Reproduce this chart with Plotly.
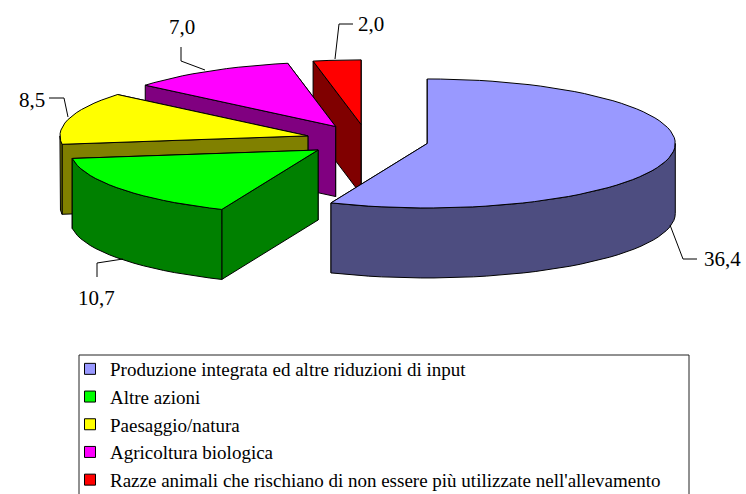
import math
import plotly.graph_objects as go

# ---- data ----
categories = [
    "Produzione integrata ed altre riduzioni di input",
    "Altre azioni",
    "Paesaggio/natura",
    "Agricoltura biologica",
    "Razze animali che rischiano di non essere più utilizzate nell'allevamento",
]
values = [36.4, 10.7, 8.5, 7.0, 2.0]

# ---- style ----
top_colors = ["#9999FF", "#00FF00", "#FFFF00", "#FF00FF", "#FF0000"]
side_colors = ["#4D4D80", "#008000", "#808000", "#800080", "#800000"]
FONT = "Liberation Serif"
CX, CY, RX, RY, DEPTH, EXPLODE = 367.0, 140.3, 248.0, 64.5, 70.0, 0.248
label_pos = [(722, 259), (96, 298), (32, 100), (182, 27), (371, 24)]
leaders = [
    [(670, 225), (683, 259), (697, 259)],
    [(123, 259), (97, 263), (97, 277)],
    [(68, 117), (64, 98), (49, 98)],
    [(205, 70), (181, 61), (181, 47)],
    [(335, 59), (339, 24), (353, 24)],
]

total = sum(values)
fig = go.Figure()


def pt(cx, cy, deg, dz=0.0):
    a = math.radians(deg)
    return cx + RX * math.sin(a), cy - RY * math.cos(a) + dz


def poly(points, fill):
    xs = [p[0] for p in points] + [points[0][0]]
    ys = [p[1] for p in points] + [points[0][1]]
    fig.add_trace(go.Scatter(
        x=xs, y=ys, mode="lines", fill="toself", fillcolor=fill,
        line=dict(color="black", width=1), showlegend=False, hoverinfo="skip"))


def arc(a0, a1):
    n = max(2, int(abs(a1 - a0) / 3) + 1)
    return [a0 + (a1 - a0) * i / (n - 1) for i in range(n)]


# slice geometry from the values
slices = []
start = 0.0
for i, v in enumerate(values):
    sweep = v / total * 360
    mid = start + sweep / 2
    m = math.radians(mid)
    cx = CX + EXPLODE * RX * math.sin(m)
    cy = CY - EXPLODE * RY * math.cos(m)
    slices.append((i, start, start + sweep, cx, cy))
    start += sweep

# back to front
for i, a0, a1, cx, cy in reversed(slices):
    apex = (cx, cy)
    apex_low = (cx, cy + DEPTH)
    # hidden end face, then visible start face
    for ang in (a1, a0):
        poly([apex, pt(cx, cy, ang), pt(cx, cy, ang, DEPTH), apex_low], side_colors[i])
    # outer wall, front half of the rim only
    w0, w1 = max(a0, 90.0), min(a1, 270.0)
    if w1 > w0:
        angs = arc(w0, w1)
        poly([pt(cx, cy, t) for t in angs] + [pt(cx, cy, t, DEPTH) for t in reversed(angs)],
             side_colors[i])
    # top face
    poly([apex] + [pt(cx, cy, t) for t in arc(a0, a1)], top_colors[i])

# leader lines and value labels
for leader, pos, v in zip(leaders, label_pos, values):
    fig.add_trace(go.Scatter(
        x=[p[0] for p in leader], y=[p[1] for p in leader], mode="lines",
        line=dict(color="black", width=1), showlegend=False, hoverinfo="skip"))
    fig.add_annotation(x=pos[0], y=pos[1], text=f"{v:.1f}".replace(".", ","),
                       showarrow=False, font=dict(family=FONT, size=21, color="black"))

# legend entries
for i, name in enumerate(categories):
    fig.add_trace(go.Scatter(
        x=[None], y=[None], mode="markers", name=name, legendgroup=f"g{i}",
        marker=dict(symbol="square", size=11, color=top_colors[i],
                    line=dict(color="black", width=1))))

fig.add_shape(type="rect", x0=79, y0=355, x1=689, y1=510, xref="x", yref="y",
              line=dict(color="#222222", width=1), fillcolor="white", layer="below")

fig.update_layout(
    width=746, height=494, margin=dict(l=0, r=0, t=0, b=0, autoexpand=False),
    paper_bgcolor="white", plot_bgcolor="white",
    xaxis=dict(range=[0, 746], visible=False, fixedrange=True),
    yaxis=dict(range=[494, 0], visible=False, fixedrange=True),
    legend=dict(x=70 / 746, y=1 - 350 / 494, xanchor="left", yanchor="top",
                bgcolor="rgba(0,0,0,0)", borderwidth=0, tracegroupgap=3,
                traceorder="normal",
                font=dict(family=FONT, size=19, color="black")),
)
fig.write_html("out.html", config={"displayModeBar": False},
               post_script="document.body.style.margin='0';document.documentElement.style.overflow='hidden';")
